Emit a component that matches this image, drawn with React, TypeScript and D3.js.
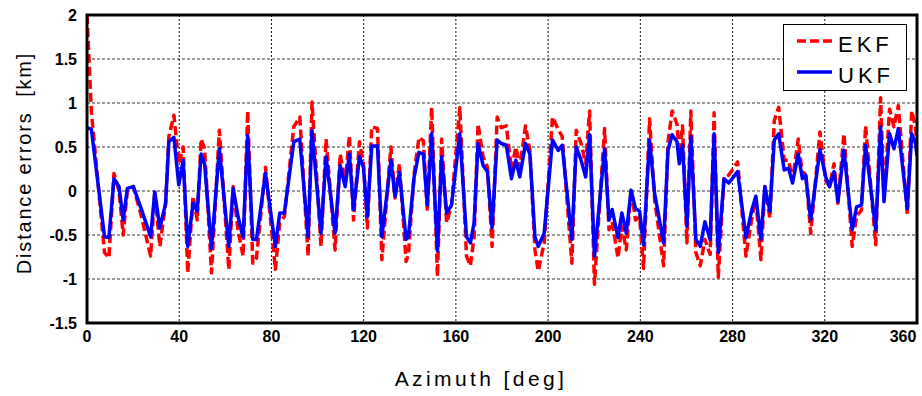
import React from 'react';
import * as d3 from 'd3';

const azimuth = [
  0, 1.9, 7.6, 9.5, 11.7, 13.9, 15.7, 17.5, 20.1, 23.5,
  27.6, 29.4, 31.6, 34.1, 35.5, 37.7, 39.8, 41.7, 43.7, 46.0,
  47.8, 49.5, 51.0, 54.0, 57.4, 61.5, 63.4, 65.5, 67.7, 69.7,
  71.9, 73.5, 77.4, 81.7, 83.6, 85.6, 89.7, 92.3, 95.9, 97.6,
  101.5, 103.7, 107.6, 109.8, 112.0, 113.8, 115.6, 118.2, 119.9, 121.6,
  123.5, 126.0, 127.9, 131.8, 133.6, 135.5, 138.4, 139.4, 141.9, 144.0,
  145.9, 147.6, 149.5, 152.0, 153.8, 156.0, 158.1, 161.7, 164.6, 166.3,
  167.9, 169.6, 171.8, 173.7, 175.7, 177.9, 179.7, 181.9, 184.1, 186.0,
  187.7, 190.2, 192.1, 194.3, 195.7, 198.3, 201.9, 204.4, 206.1, 210.3,
  212.2, 214.3, 216.3, 218.0, 220.1, 224.5, 226.4, 227.8, 230.3, 232.0,
  233.9, 236.0, 237.9, 239.7, 241.4, 244.0, 246.2, 250.1, 252.0, 253.8,
  255.9, 256.9, 258.3, 260.2, 261.9, 264.1, 266.0, 268.0, 270.3, 272.0,
  273.8, 276.3, 278.3, 282.2, 285.8, 288.4, 290.1, 292.3, 294.0, 296.2,
  298.1, 300.0, 302.4, 304.3, 306.0, 308.5, 310.3, 311.7, 313.9, 317.9,
  320.4, 322.1, 324.0, 325.7, 328.3, 331.9, 333.8, 335.9, 337.7, 342.1,
  344.2, 345.7, 348.1, 350.0, 351.9, 355.8, 357.7, 359.4, 360,
];

const ukf = [
  0.72, 0.70, -0.52, -0.53, 0.14, 0.05, -0.33, 0.03, 0.05, -0.20,
  -0.52, -0.01, -0.42, -0.14, 0.56, 0.61, 0.07, 0.35, -0.63, -0.14,
  -0.23, 0.42, 0.31, -0.65, 0.48, -0.63, 0.03, -0.29, -0.53, 0.63,
  -0.55, -0.55, 0.20, -0.63, -0.25, -0.25, 0.56, 0.59, -0.52, 0.69,
  -0.48, 0.39, -0.48, 0.29, 0.05, 0.42, -0.21, 0.39, 0.27, -0.29,
  0.51, 0.51, -0.52, 0.35, -0.06, 0.21, -0.55, -0.52, 0.16, 0.44,
  0.42, -0.16, 0.65, -0.68, 0.39, -0.25, -0.16, 0.65, -0.52, -0.59,
  -0.36, 0.54, 0.29, 0.22, -0.42, 0.58, 0.54, 0.52, 0.14, 0.35,
  0.16, 0.54, 0.42, -0.52, -0.63, -0.48, 0.58, 0.46, 0.52, -0.55,
  0.50, 0.35, 0.16, 0.64, -0.74, 0.48, -0.33, -0.21, -0.53, -0.25,
  -0.48, 0.01, -0.20, -0.23, -0.61, 0.58, -0.03, -0.59, 0.46, 0.64,
  0.56, 0.31, 0.52, -0.40, 0.62, -0.55, -0.63, -0.35, -0.55, 0.65,
  -0.70, 0.14, 0.09, 0.22, -0.53, -0.21, -0.06, -0.55, 0.05, -0.23,
  0.58, 0.65, 0.24, 0.26, 0.09, 0.42, 0.14, 0.18, -0.33, 0.47,
  0.16, 0.05, 0.22, -0.12, 0.46, -0.44, -0.18, -0.16, 0.52, -0.44,
  0.73, -0.12, 0.65, 0.48, 0.71, -0.20, 0.65, 0.54, 0.40,
];

const ekf = [
  2.0, 0.90, -0.70, -0.76, 0.20, 0.00, -0.50, 0.01, 0.05, -0.28,
  -0.74, 0.00, -0.63, -0.14, 0.62, 0.86, 0.31, 0.50, -0.93, -0.06,
  -0.33, 0.59, 0.48, -0.93, 0.69, -0.89, 0.05, -0.45, -0.74, 0.91,
  -0.82, -0.76, 0.27, -0.89, -0.36, -0.29, 0.73, 0.84, -0.74, 1.01,
  -0.63, 0.59, -0.67, 0.42, 0.09, 0.63, -0.33, 0.56, 0.31, -0.42,
  0.73, 0.71, -0.78, 0.50, -0.08, 0.31, -0.80, -0.72, 0.20, 0.61,
  0.57, -0.23, 0.95, -0.97, 0.59, -0.36, -0.16, 0.95, -0.74, -0.85,
  -0.52, 0.76, 0.39, 0.27, -0.63, 0.84, 0.72, 0.74, 0.24, 0.50,
  0.27, 0.74, 0.46, -0.67, -0.91, -0.59, 0.84, 0.70, 0.62, -0.82,
  0.69, 0.54, 0.31, 0.91, -1.06, 0.71, -0.44, -0.35, -0.76, -0.40,
  -0.67, 0.03, -0.33, -0.30, -0.88, 0.82, -0.10, -0.85, 0.55, 0.91,
  0.76, 0.42, 0.74, -0.59, 0.91, -0.70, -0.85, -0.55, -0.72, 0.89,
  -0.98, 0.16, 0.18, 0.33, -0.74, -0.30, -0.10, -0.78, 0.05, -0.31,
  0.80, 0.95, 0.35, 0.35, 0.12, 0.59, 0.18, 0.22, -0.48, 0.67,
  0.12, 0.05, 0.31, -0.14, 0.65, -0.63, -0.28, -0.22, 0.74, -0.61,
  1.06, -0.10, 0.93, 0.73, 0.97, -0.27, 0.91, 0.73, 0.45,
];

const xTicks = [0, 40, 80, 120, 160, 200, 240, 280, 320, 360];
const yTicks = [-1.5, -1, -0.5, 0, 0.5, 1, 1.5, 2];

const seriesNames = ['EKF', 'UKF'];

export default function App() {
  const W = 922;
  const H = 396;
  const L = 87, R = 917, T = 15, B = 323;
  const x = d3.scaleLinear().domain([0, 360]).range([L, R]);
  const y = d3.scaleLinear().domain([-1.5, 2]).range([B, T]);
  const n = Math.min(azimuth.length, ukf.length, ekf.length);
  const idx = d3.range(n);
  const mk = (vals: number[]) =>
    d3.line<number>().x((i) => x(azimuth[i])).y((i) => y(vals[i]))(idx) || '';

  const tickFont = "'Liberation Sans Narrow', 'Arial Narrow', 'Liberation Sans', Arial, sans-serif";
  const font = "'Liberation Sans', Arial, sans-serif";

  return (
    <svg width={W} height={H} style={{ position: 'absolute', left: 0, top: 0, background: '#fff' }}>
      <defs>
        <clipPath id="plotclip">
          <rect x={L} y={T} width={R - L} height={B - T} />
        </clipPath>
      </defs>
      <rect x={0} y={0} width={W} height={H} fill="#fff" />
      {yTicks.filter((t) => t > -1.5 && t < 2).map((t) => (
        <line key={'gy' + t} x1={L} x2={R} y1={y(t)} y2={y(t)} stroke="#333" strokeWidth={1} strokeDasharray="3,2" />
      ))}
      {xTicks.filter((t) => t > 0 && t < 360).map((t) => (
        <line key={'gx' + t} x1={x(t)} x2={x(t)} y1={T} y2={B} stroke="#111" strokeWidth={1} strokeDasharray="2,2" />
      ))}
      <g clipPath="url(#plotclip)">
        <path d={mk(ekf)} fill="none" stroke="#ff0000" strokeWidth={3.5} strokeDasharray="9,4" strokeLinejoin="round" />
        <path d={mk(ukf)} fill="none" stroke="#0000ff" strokeWidth={3.5} strokeLinejoin="round" />
      </g>
      <rect x={L} y={T} width={R - L} height={B - T} fill="none" stroke="#000" strokeWidth={3} />
      {yTicks.map((t) => (
        <text key={'yl' + t} x={77} y={y(t)} dy="0.35em" textAnchor="end" fontFamily={tickFont}
          fontWeight="bold" fontSize={16} fill="#000">{String(t)}</text>
      ))}
      {xTicks.map((t) => (
        <text key={'xl' + t} x={t === 360 ? x(t) - 14 : x(t)} y={342} textAnchor="middle" fontFamily={tickFont}
          fontWeight="bold" fontSize={16} fill="#000">{String(t)}</text>
      ))}
      <text x={481} y={386} textAnchor="middle" fontFamily={font} fontSize={21} letterSpacing={3.4} fill="#000">
        Azimuth [deg]
      </text>
      <text transform={`translate(31,163) rotate(-90)`} textAnchor="middle" fontFamily={font} fontSize={20}
        letterSpacing={1.8} fill="#000" style={{ whiteSpace: 'pre' }}>
        {'Distance errors  [km]'}
      </text>
      <g>
        <rect x={783.5} y={24.5} width={123} height={66} fill="#fff" stroke="#000" strokeWidth={1} />
        <line x1={797} x2={832} y1={41} y2={41} stroke="#ff0000" strokeWidth={3.5} strokeDasharray="9,4" />
        <line x1={797} x2={832} y1={72} y2={72} stroke="#0000ff" strokeWidth={3.5} />
        <text x={838} y={52} fontFamily={font} fontSize={22} letterSpacing={4} fill="#000">{seriesNames[0]}</text>
        <text x={838} y={83} fontFamily={font} fontSize={22} letterSpacing={4} fill="#000">{seriesNames[1]}</text>
      </g>
    </svg>
  );
}
